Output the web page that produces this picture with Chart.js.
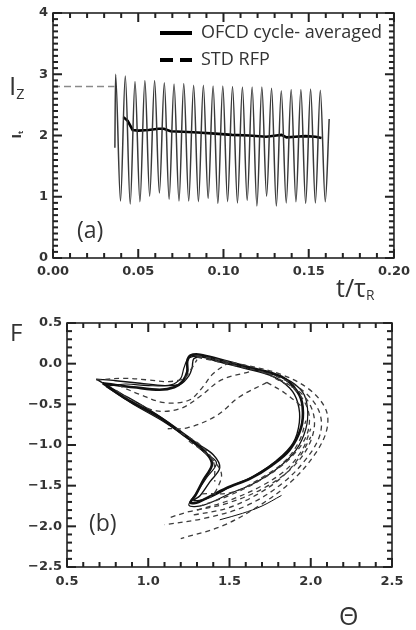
<!DOCTYPE html>
<html lang="en">
<head>
    <meta charset="UTF-8">
    <title>OFCD vs STD RFP</title>
    <script src="https://cdn.jsdelivr.net/npm/chart.js"></script>
    <style>
        body { margin: 0; background: #fff; }
        #page { position: relative; width: 416px; height: 630px; overflow: hidden; font-family: 'Open Sans', sans-serif; color: #333; }
        #topBox { position: absolute; left: 0; top: 0; width: 416px; height: 300px; }
        #botBox { position: absolute; left: 0; top: 300px; width: 416px; height: 330px; }
        .lbl { position: absolute; white-space: nowrap; line-height: 1; }
        .lbl sub { font-size: 0.55em; vertical-align: -0.25em; }
        .sample { position: absolute; height: 4px; background: #000; }
    </style>
</head>
<body>
<div id="page">
    <div id="topBox"><canvas id="topChart" width="416" height="300"></canvas></div>
    <div id="botBox"><canvas id="botChart" width="416" height="330"></canvas></div>

    <!-- legend of panel (a) -->
    <div class="sample" style="left:160px; top:31px; width:32px;"></div>
    <div class="sample" style="left:160px; top:58px; width:13px;"></div>
    <div class="sample" style="left:180px; top:58px; width:12px;"></div>
    <div class="lbl" style="left:201px; top:22px; font-size:18px;">OFCD cycle- averaged</div>
    <div class="lbl" style="left:201px; top:49px; font-size:18px;">STD RFP</div>

    <!-- axis titles and panel tags -->
    <div class="lbl" style="left:9px; top:72px; font-size:26px;">I<sub>Z</sub></div>
    <div class="lbl" style="left:14px; top:128px; font-size:12px; font-family:'DejaVu Sans'; font-weight:bold; transform:rotate(-90deg);">I<sub>t</sub></div>
    <div class="lbl" style="left:336px; top:275px; font-size:25px;">t/τ<sub>R</sub></div>
    <div class="lbl" style="left:77px; top:218px; font-size:23px;">(a)</div>
    <div class="lbl" style="left:10px; top:320px; font-size:24px;">F</div>
    <div class="lbl" style="left:89px; top:511px; font-size:23px;">(b)</div>
    <div class="lbl" style="left:339px; top:603px; font-size:25px;">Θ</div>
</div>

<script>
    // ---- panel (a): I_t against t/tau_R ----
    const oscT = [0.0363, 0.0367, 0.0396, 0.0424, 0.0453, 0.0481, 0.0510, 0.0539, 0.0567, 0.0596, 0.0624,
                  0.0653, 0.0681, 0.0710, 0.0739, 0.0767, 0.0796, 0.0825, 0.0853, 0.0882, 0.0910, 0.0939,
                  0.0967, 0.0996, 0.1024, 0.1053, 0.1082, 0.1111, 0.1139, 0.1168, 0.1196, 0.1225, 0.1253,
                  0.1282, 0.1310, 0.1339, 0.1368, 0.1397, 0.1425, 0.1454, 0.1482, 0.1511, 0.1539, 0.1568,
                  0.1597, 0.1620];
    const oscI = [1.80, 3.00, 0.93, 2.97, 0.88, 2.88, 0.92, 2.90, 1.01, 2.90, 1.06,
                  2.86, 0.96, 2.84, 0.93, 2.85, 0.93, 2.82, 0.92, 2.82, 0.97, 2.81,
                  0.89, 2.81, 0.92, 2.80, 0.90, 2.79, 0.94, 2.79, 0.85, 2.79, 1.01,
                  2.77, 0.85, 2.73, 0.90, 2.75, 0.92, 2.75, 0.89, 2.76, 0.90, 2.74,
                  0.92, 2.27];
    const avgT = [0.0413, 0.0438, 0.0467, 0.0500, 0.0560, 0.0620, 0.0650, 0.0690, 0.0760, 0.0850, 0.0950,
                  0.1050, 0.1150, 0.1250, 0.1310, 0.1340, 0.1370, 0.1420, 0.1480, 0.1540, 0.1575];
    const avgI = [2.30, 2.24, 2.09, 2.08, 2.09, 2.11, 2.11, 2.07, 2.06, 2.05, 2.03,
                  2.01, 2.00, 1.98, 2.00, 2.01, 1.97, 1.98, 1.99, 1.98, 1.96];
    const stdT = [0.000, 0.036];
    const stdI = [2.80, 2.80];

    // ---- panel (b): F against Theta, [Theta, F] ----
    const ofcdLoopA = [[0.72,-0.24],[0.87,-0.44],[1.07,-0.66],[1.22,-0.88],[1.32,-1.03],[1.38,-1.16],[1.39,-1.26],
        [1.34,-1.43],[1.29,-1.62],[1.26,-1.71],[1.31,-1.70],[1.48,-1.53],[1.63,-1.41],[1.76,-1.25],[1.87,-1.06],
        [1.94,-0.79],[1.95,-0.53],[1.92,-0.35],[1.82,-0.16],[1.63,-0.05],[1.44,0.05],[1.32,0.11],[1.26,0.10],
        [1.24,0.03],[1.24,-0.10],[1.21,-0.22],[1.16,-0.29],[1.07,-0.32],[0.91,-0.29],[0.79,-0.26],[0.72,-0.24]];
    const ofcdLoopB = [[0.68,-0.19],[0.80,-0.33],[1.00,-0.56],[1.18,-0.80],[1.30,-0.98],[1.40,-1.12],[1.44,-1.28],
        [1.38,-1.45],[1.32,-1.62],[1.28,-1.68],[1.36,-1.66],[1.52,-1.50],[1.66,-1.37],[1.79,-1.19],[1.89,-0.98],
        [1.93,-0.72],[1.92,-0.48],[1.87,-0.30],[1.76,-0.15],[1.58,-0.05],[1.42,0.03],[1.33,0.08],[1.28,0.06],
        [1.27,-0.05],[1.25,-0.15],[1.20,-0.25],[1.10,-0.27],[0.95,-0.24],[0.80,-0.21],[0.68,-0.19]];
    const ofcdLoopC = [[0.74,-0.28],[0.90,-0.49],[1.10,-0.72],[1.25,-0.93],[1.35,-1.10],[1.42,-1.22],[1.36,-1.40],
        [1.30,-1.58],[1.25,-1.74],[1.34,-1.74],[1.50,-1.60],[1.66,-1.46],[1.80,-1.28],[1.91,-1.06],[1.97,-0.80],
        [1.98,-0.55],[1.95,-0.35],[1.85,-0.19],[1.66,-0.08],[1.46,0.02],[1.33,0.09],[1.25,0.07],[1.22,-0.05],
        [1.20,-0.18],[1.14,-0.26],[1.00,-0.27],[0.86,-0.25],[0.74,-0.28]];
    const ofcdTail = [[1.44,-1.92],[1.58,-1.84],[1.70,-1.75],[1.82,-1.62]];

    const stdArcA = [[1.30,0.10],[1.55,0.00],[1.80,-0.12],[1.98,-0.30],[2.09,-0.55],[2.10,-0.80],[2.03,-1.10],
        [1.88,-1.45],[1.68,-1.75],[1.45,-2.00],[1.20,-2.15]];
    const stdArcB = [[1.30,0.08],[1.55,-0.03],[1.78,-0.15],[1.95,-0.33],[2.05,-0.58],[2.06,-0.85],[1.98,-1.15],
        [1.82,-1.48],[1.60,-1.75],[1.35,-1.90],[1.10,-1.98]];
    const stdArcC = [[1.78,-0.18],[1.95,-0.38],[2.02,-0.65],[2.00,-0.95],[1.90,-1.25],[1.72,-1.52],[1.48,-1.72],
        [1.25,-1.82],[1.12,-1.90]];
    const stdArcD = [[1.70,-0.10],[1.88,-0.28],[1.98,-0.55],[1.98,-0.85],[1.88,-1.15],[1.70,-1.42],[1.50,-1.62],
        [1.32,-1.75]];
    const stdArcE = [[1.73,-0.23],[1.56,-0.41],[1.42,-0.64],[1.24,-0.79],[1.12,-0.80]];
    const stdArcF = [[1.73,-0.23],[1.84,-0.36],[1.94,-0.52]];
    const stdArcG = [[1.62,-0.10],[1.45,-0.20],[1.32,-0.40],[1.20,-0.55],[1.05,-0.58],[0.90,-0.45],[0.78,-0.30]];
    const stdArcH = [[1.25,-0.95],[1.38,-1.15],[1.45,-1.35],[1.42,-1.55],[1.38,-1.65]];
    const stdArcI = [[0.68,-0.20],[0.85,-0.18],[1.00,-0.20],[1.12,-0.22],[1.22,-0.18],[1.27,-0.05],[1.30,0.05]];
    const stdArcJ = [[1.30,-1.80],[1.50,-1.68],[1.70,-1.50],[1.85,-1.30],[1.95,-1.05],[2.00,-0.80]];
    const stdArcK = [[1.50,0.02],[1.40,-0.12],[1.33,-0.30],[1.25,-0.45],[1.10,-0.48],[0.95,-0.38],[0.82,-0.27]];
    const stdArcL = [[1.33,-1.60],[1.52,-1.58],[1.70,-1.40],[1.84,-1.20],[1.93,-0.95],[1.97,-0.70]];
    const stdArcM = [[1.28,-1.86],[1.48,-1.78],[1.66,-1.62],[1.82,-1.40],[1.93,-1.15],[2.00,-0.90]];
    const stdArcN = [[1.20,-0.85],[1.32,-1.00],[1.40,-1.20],[1.41,-1.45]];

    const ink = '#333';
    const tickFont = { family: 'DejaVu Sans', size: 13, weight: 'bold' };
    const tickInk = '#222';

    // IDL style frame: box plus inward major and minor ticks on all four sides
    const idlFrame = {
        id: 'idlFrame',
        afterDraw(chart, args, opts) {
            const ctx = chart.ctx;
            const a = chart.chartArea;
            ctx.save();
            ctx.strokeStyle = '#222';
            ctx.lineWidth = 1.6;
            ctx.strokeRect(a.left, a.top, a.right - a.left, a.bottom - a.top);
            ctx.fillStyle = tickInk;
            const xs = chart.scales.x;
            const ys = chart.scales.y;
            for (let i = 0; xs.min + i * opts.xMinor <= xs.max + 1e-9; i++) {
                const p = xs.getPixelForValue(xs.min + i * opts.xMinor);
                const len = Math.abs(xs.min + i * opts.xMinor - Math.round((xs.min + i * opts.xMinor) / opts.xMajor) * opts.xMajor) < 1e-6 ? 9 : 5;
                ctx.fillRect(p - 1, a.bottom - len, 2, len);
                ctx.fillRect(p - 1, a.top, 2, len);
            }
            for (let i = 0; ys.min + i * opts.yMinor <= ys.max + 1e-9; i++) {
                const p = ys.getPixelForValue(ys.min + i * opts.yMinor);
                const len = Math.abs(ys.min + i * opts.yMinor - Math.round((ys.min + i * opts.yMinor) / opts.yMajor) * opts.yMajor) < 1e-6 ? 9 : 5;
                ctx.fillRect(a.left, p - 1, len, 2);
                ctx.fillRect(a.right - len, p - 1, len, 2);
            }
            ctx.restore();
        }
    };

    const pts = (xs, ys) => xs.map((v, i) => ({ x: v, y: ys[i] }));
    const pairs = arr => arr.map(p => ({ x: p[0], y: p[1] }));

    function axis(min, max, step, digits, size, pad) {
        return {
            type: 'linear', min: min, max: max,
            grid: { display: false, drawTicks: false },
            border: { display: false },
            ticks: {
                stepSize: step, color: ink, font: tickFont, padding: pad,
                callback: v => v.toFixed(digits).replace('-', '\u2212')
            },
            afterFit: s => { if (s.isHorizontal()) s.height = size; else s.width = size; }
        };
    }

    new Chart(document.getElementById('topChart'), {
        type: 'scatter',
        data: {
            datasets: [
                { data: pts(oscT, oscI), showLine: true, borderColor: '#3a3a3a', borderWidth: 1.5,
                  pointRadius: 0, cubicInterpolationMode: 'monotone' },
                { data: pts(avgT, avgI), showLine: true, borderColor: '#000', borderWidth: 2.6, pointRadius: 0 },
                { data: pts(stdT, stdI), showLine: true, borderColor: '#8a8a8a', borderWidth: 1.3,
                  borderDash: [7, 4], pointRadius: 0 }
            ]
        },
        options: {
            responsive: false, animation: false,
            layout: { padding: { top: 13, right: 19, left: 0, bottom: 0 } },
            plugins: { legend: { display: false }, tooltip: { enabled: false },
                       idlFrame: { xMinor: 0.01, xMajor: 0.05, yMinor: 0.1, yMajor: 1 } },
            scales: { x: axis(0, 0.2, 0.05, 2, 42, 6), y: axis(0, 4, 1, 0, 53, 5) }
        },
        plugins: [idlFrame]
    });

    const solid = (arr, w) => ({ data: pairs(arr), showLine: true, borderColor: '#111', borderWidth: w,
                                 pointRadius: 0, tension: 0.35 });
    const dashed = arr => ({ data: pairs(arr), showLine: true, borderColor: '#3c3c3c', borderWidth: 1.3,
                             borderDash: [5, 4], pointRadius: 0, tension: 0.35 });

    new Chart(document.getElementById('botChart'), {
        type: 'scatter',
        data: {
            datasets: [
                dashed(stdArcA), dashed(stdArcB), dashed(stdArcC), dashed(stdArcD), dashed(stdArcE),
                dashed(stdArcF), dashed(stdArcG), dashed(stdArcH), dashed(stdArcI), dashed(stdArcJ),
                dashed(stdArcK), dashed(stdArcL), dashed(stdArcM), dashed(stdArcN),
                solid(ofcdLoopC, 1.2), solid(ofcdLoopB, 1.4), solid(ofcdLoopA, 2.6), solid(ofcdTail, 1.0)
            ]
        },
        options: {
            responsive: false, animation: false,
            layout: { padding: { top: 23, right: 24, left: 0, bottom: 0 } },
            plugins: { legend: { display: false }, tooltip: { enabled: false },
                       idlFrame: { xMinor: 0.1, xMajor: 0.5, yMinor: 0.1, yMajor: 0.5 } },
            scales: { x: axis(0.5, 2.5, 0.5, 1, 63, 7), y: axis(-2.5, 0.5, 0.5, 1, 67, 5) }
        },
        plugins: [idlFrame]
    });
</script>
</body>
</html>
